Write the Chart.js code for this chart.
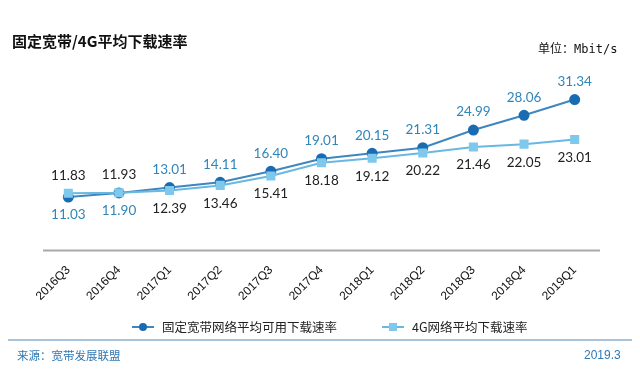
<!DOCTYPE html>
<html>
<head>
<meta charset="utf-8">
<script src="https://cdn.jsdelivr.net/npm/chart.js@4/dist/chart.umd.min.js"></script>
<style>
  html, body { margin: 0; padding: 0; background: #fff; }
  #wrap { position: relative; width: 640px; height: 382px; overflow: hidden; font-family: "Noto Sans CJK SC", sans-serif; }
  #c { position: absolute; left: 0; top: 0; }
  .abs { position: absolute; white-space: nowrap; }
  #title { left: 12px; top: 31px; font-size: 15px; font-weight: bold; color: #111; line-height: 20px; }
  #unit { left: 538px; top: 39px; font-size: 12px; color: #111; line-height: 18px; }
  #unit span { font-family: "DejaVu Sans Mono", monospace; font-size: 12px; }
  .leg { top: 318px; font-size: 12.5px; color: #222; line-height: 18px; display: flex; align-items: center; }
  .mk { position: relative; width: 22px; height: 18px; margin-right: 8px; }
  .mk .ln { position: absolute; left: 0; right: 0; top: 8px; height: 2px; }
  .mk .dot { position: absolute; left: 7px; top: 5px; width: 8px; height: 8px; border-radius: 50%; }
  .mk .sq { position: absolute; left: 7px; top: 5px; width: 8px; height: 8px; }
  #rule { left: 8px; top: 339px; width: 624px; height: 2px; background: #a8c3dc; }
  #src { left: 17px; top: 347px; font-size: 11.5px; color: #2f78b4; line-height: 16px; }
  #date { left: 584px; top: 347px; font-size: 12px; color: #2f78b4; line-height: 16px; font-family: "Liberation Sans Narrow", "Liberation Sans", sans-serif; }
</style>
</head>
<body>
<div id="wrap">
  <canvas id="c" width="640" height="382"></canvas>
  <div id="title" class="abs">固定宽带/4G平均下载速率</div>
  <div id="unit" class="abs">单位：<span>Mbit/s</span></div>
  <div class="abs leg" style="left:132px"><div class="mk"><div class="ln" style="background:#3f86bf"></div><div class="dot" style="background:#1a6cb2"></div></div>固定宽带网络平均可用下载速率</div>
  <div class="abs leg" style="left:382px"><div class="mk"><div class="ln" style="background:#68b8e2"></div><div class="sq" style="background:#7fc8ec"></div></div>4G网络平均下载速率</div>
  <div id="rule" class="abs"></div>
  <div id="src" class="abs">来源：宽带发展联盟</div>
  <div id="date" class="abs">2019.3</div>
</div>
<script>
const categories = ["2016Q3","2016Q4","2017Q1","2017Q2","2017Q3","2017Q4","2018Q1","2018Q2","2018Q3","2018Q4","2019Q1"];
const fixedBroadband = [11.03, 11.90, 13.01, 14.11, 16.40, 19.01, 20.15, 21.31, 24.99, 28.06, 31.34];
const mobile4G = [11.83, 11.93, 12.39, 13.46, 15.41, 18.18, 19.12, 20.22, 21.46, 22.05, 23.01];
const seriesNames = ["固定宽带网络平均可用下载速率", "4G网络平均下载速率"];

const labelPlugin = {
  id: 'valueLabels',
  afterDatasetsDraw(chart) {
    const ctx = chart.ctx;
    ctx.save();
    ctx.font = '13.5px Lato, "Open Sans", sans-serif';
    ctx.textAlign = 'center';
    ctx.textBaseline = 'middle';
    chart.data.datasets.forEach((ds, di) => {
      const meta = chart.getDatasetMeta(di);
      const other = chart.data.datasets[1 - di].data;
      meta.data.forEach((pt, i) => {
        const v = ds.data[i];
        const above = v > other[i];
        ctx.fillStyle = ds.labelColor;
        ctx.fillText(v.toFixed(2), pt.x, pt.y + (above ? -18 : 18));
      });
    });
    ctx.restore();
  }
};

const axisLinePlugin = {
  id: 'axisLine',
  afterDraw(chart) {
    const ctx = chart.ctx;
    const xs = chart.scales.x;
    const y = Math.round(xs.top) + 0.5;
    ctx.save();
    ctx.strokeStyle = '#a9a9a9';
    ctx.lineWidth = 2;
    ctx.beginPath();
    ctx.moveTo(xs.left, y);
    ctx.lineTo(xs.right, y);
    ctx.stroke();
    ctx.restore();
  }
};

new Chart(document.getElementById('c'), {
  type: 'line',
  data: {
    labels: categories,
    datasets: [
      {
        label: seriesNames[0],
        data: fixedBroadband,
        borderColor: '#3f86bf',
        backgroundColor: '#1a6cb2',
        pointBackgroundColor: '#1a6cb2',
        pointBorderColor: '#1a6cb2',
        pointStyle: 'circle',
        pointRadius: 4.5,
        borderWidth: 2,
        tension: 0,
        order: 2,
        labelColor: '#2f86b9'
      },
      {
        label: seriesNames[1],
        data: mobile4G,
        borderColor: '#68b8e2',
        backgroundColor: '#7fc8ec',
        pointBackgroundColor: '#7fc8ec',
        pointBorderColor: '#7fc8ec',
        pointStyle: 'rect',
        pointRadius: 5,
        borderWidth: 2,
        tension: 0,
        order: 1,
        labelColor: '#222222'
      }
    ]
  },
  options: {
    responsive: false,
    animation: false,
    layout: { padding: { left: 43, right: 40, top: 82, bottom: 82 } },
    plugins: { legend: { display: false }, tooltip: { enabled: false } },
    scales: {
      x: {
        offset: true,
        grid: { display: false },
        border: { display: false },
        ticks: {
          minRotation: 45, maxRotation: 45, padding: 5,
          color: '#111',
          font: { family: '"Liberation Sans", Arial, sans-serif', size: 12 }
        },
        afterFit(scale) { scale.height = 50; }
      },
      y: {
        display: false,
        min: 0,
        max: 35
      }
    }
  },
  plugins: [axisLinePlugin, labelPlugin]
});
</script>
</body>
</html>
